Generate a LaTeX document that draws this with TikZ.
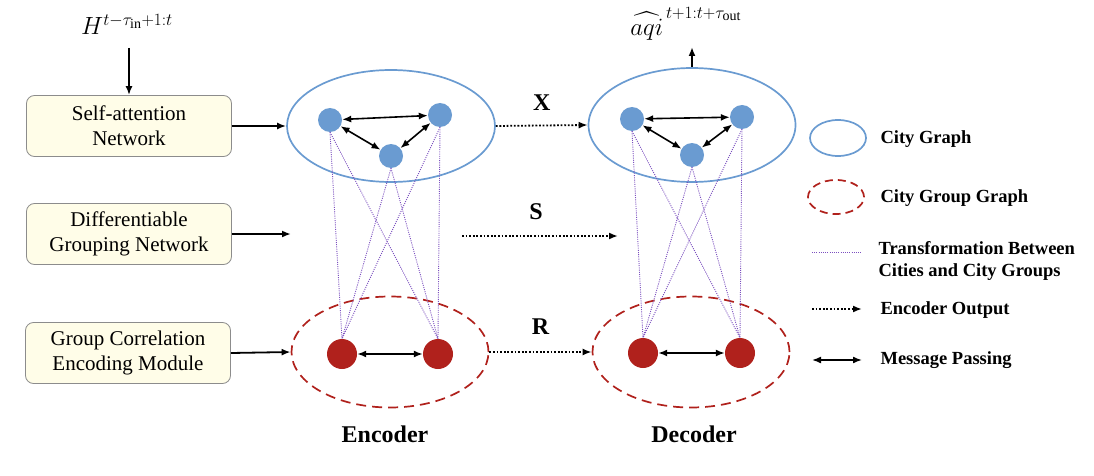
\documentclass[tikz,border=0pt]{standalone}
\usepackage{fontspec}
\setmainfont{Liberation Serif}
\usepackage{amsmath}
\usetikzlibrary{shapes,arrows.meta,positioning}
\DeclareMathSizes{24}{24}{18}{14}

\definecolor{cityblue}{HTML}{6A9BD1}
\definecolor{groupred}{HTML}{B0211C}
\definecolor{transpurple}{HTML}{7B4FBF}
\definecolor{modfill}{HTML}{FFFDE8}

\begin{document}
\begin{tikzpicture}[x=1pt, y=-1pt]
    % Define styles
    \tikzstyle{module} = [rectangle, draw=gray!90, line width=0.8pt, fill=modfill, rounded corners=8pt, minimum width=205pt, minimum height=61pt, align=center, font=\fontsize{21}{25}\selectfont]
    \tikzstyle{citygraph} = [ellipse, draw=cityblue, line width=1.7pt, inner sep=0pt]
    \tikzstyle{groupgraph} = [ellipse, draw=groupred, line width=1.7pt, dash pattern=on 10pt off 6pt, inner sep=0pt]
    \tikzstyle{city} = [circle, fill=cityblue, minimum size=24pt, inner sep=0pt]
    \tikzstyle{group} = [circle, fill=groupred, minimum size=30pt, inner sep=0pt]
    \tikzstyle{arrow} = [line width=1.8pt, -{Latex[length=9pt,width=7pt]}]
    \tikzstyle{msg} = [line width=1.6pt, {Latex[length=9pt,width=7pt]}-{Latex[length=9pt,width=7pt]}]
    \tikzstyle{output} = [line width=1.8pt, dash pattern=on 1.8pt off 1.8pt, -{Latex[length=9pt,width=7pt]}]
    \tikzstyle{trans} = [transpurple, dash pattern=on 1pt off 1.2pt, line width=0.9pt]
    \tikzstyle{legend} = [anchor=west, align=left, font=\fontsize{18.5}{22}\selectfont\bfseries]
    \tikzstyle{coder} = [font=\fontsize{24}{28}\selectfont\bfseries]
    \tikzstyle{mat} = [font=\fontsize{24}{28}\selectfont]

    \useasboundingbox (0,0) rectangle (1094,476);

    % Modules
    \node [module] (sa) at (129,126) {Self-attention\\Network};
    \node [module] (dgn) at (129,234) {Differentiable\\Grouping Network};
    \node [module] (gcem) at (128,353) {Group Correlation\\Encoding Module};

    % Graphs
    \node [citygraph, minimum width=208pt, minimum height=112pt] (enccity) at (391,126) {};
    \node [citygraph, minimum width=207pt, minimum height=114pt] (deccity) at (692,125) {};
    \node [groupgraph, minimum width=197pt, minimum height=111pt] (encgroup) at (390,352) {};
    \node [groupgraph, minimum width=197pt, minimum height=111pt] (decgroup) at (691,352) {};

    % Cities and city groups
    \node [city] (ea) at (330,120) {};
    \node [city] (eb) at (440,115) {};
    \node [city] (ec) at (391,156) {};
    \node [city] (da) at (632,119) {};
    \node [city] (db) at (742,117) {};
    \node [city] (dc) at (692,155) {};
    \node [group] (er) at (342,354) {};
    \node [group] (es) at (438,354) {};
    \node [group] (dr) at (643,353) {};
    \node [group] (ds) at (740,353) {};

    % Transformations
    \foreach \c in {ea,eb,ec} {
        \draw [trans] (\c.south) -- (er.north);
        \draw [trans] (\c.south) -- (es.north);
    }
    \foreach \c in {da,db,dc} {
        \draw [trans] (\c.south) -- (dr.north);
        \draw [trans] (\c.south) -- (ds.north);
    }

    % Message passing
    \draw [msg] (ea) -- (eb);
    \draw [msg] (ea) -- (ec);
    \draw [msg] (ec) -- (eb);
    \draw [msg] (da) -- (db);
    \draw [msg] (da) -- (dc);
    \draw [msg] (dc) -- (db);
    \draw [msg] (er) -- (es);
    \draw [msg] (dr) -- (ds);

    % Input and output
    \node [mat] (hin) at (127,24) {$H^{t-\tau_{\mathrm{in}}+1:t}$};
    \node [mat] (aqi) at (686,24) {$\widehat{aqi}^{\,t+1:t+\tau_{\mathrm{out}}}$};
    \coordinate (hend) at (129,48);
    \coordinate (aqiend) at (692,47);
    \draw [arrow] (hend) -- (sa.north);
    \draw [arrow] (deccity.north) -- (aqiend);

    % Module arrows
    \coordinate (dgnend) at (291,234);
    \draw [arrow] (sa.east) -- (enccity.west);
    \draw [arrow] (dgn.east) -- (dgnend);
    \draw [arrow] (gcem.east) -- (encgroup.west);

    % Encoder outputs
    \coordinate (sstart) at (462,236);
    \coordinate (send) at (618,236);
    \draw [output] (enccity.east) -- (deccity.west) node [midway, above=11pt, coder] {X};
    \draw [output] (sstart) -- (send);
    \node [coder] (slabel) at (536,212) {S};
    \draw [output] (encgroup.east) -- (decgroup.west) node [midway, above=13pt, coder] {R};

    \node [coder] (enc) at (385,434) {Encoder};
    \node [coder] (dec) at (694,434) {Decoder};

    % Legend
    \node [citygraph, minimum width=56pt, minimum height=36pt] (lcity) at (838,138) {};
    \node [groupgraph, minimum width=56pt, minimum height=34pt, dash pattern=on 8pt off 5pt] (lgroup) at (836,197) {};
    \node [legend] (tcity) at (877,139) {City Graph};
    \node [legend] (tgroup) at (877,198) {City Group Graph};
    \node [legend] (ttrans) at (875,261) {Transformation Between\\Cities and City Groups};
    \node [legend] (tout) at (877,310) {Encoder Output};
    \node [legend] (tmsg) at (877,360) {Message Passing};
    \coordinate (ltrans1) at (812,252);
    \coordinate (ltrans2) at (862,252);
    \coordinate (lout1) at (812,309);
    \coordinate (lout2) at (862,309);
    \coordinate (lmsg1) at (812,360);
    \coordinate (lmsg2) at (862,360);
    \draw [trans] (ltrans1) -- (ltrans2);
    \draw [output] (lout1) -- (lout2);
    \draw [msg] (lmsg1) -- (lmsg2);
\end{tikzpicture}
\end{document}
